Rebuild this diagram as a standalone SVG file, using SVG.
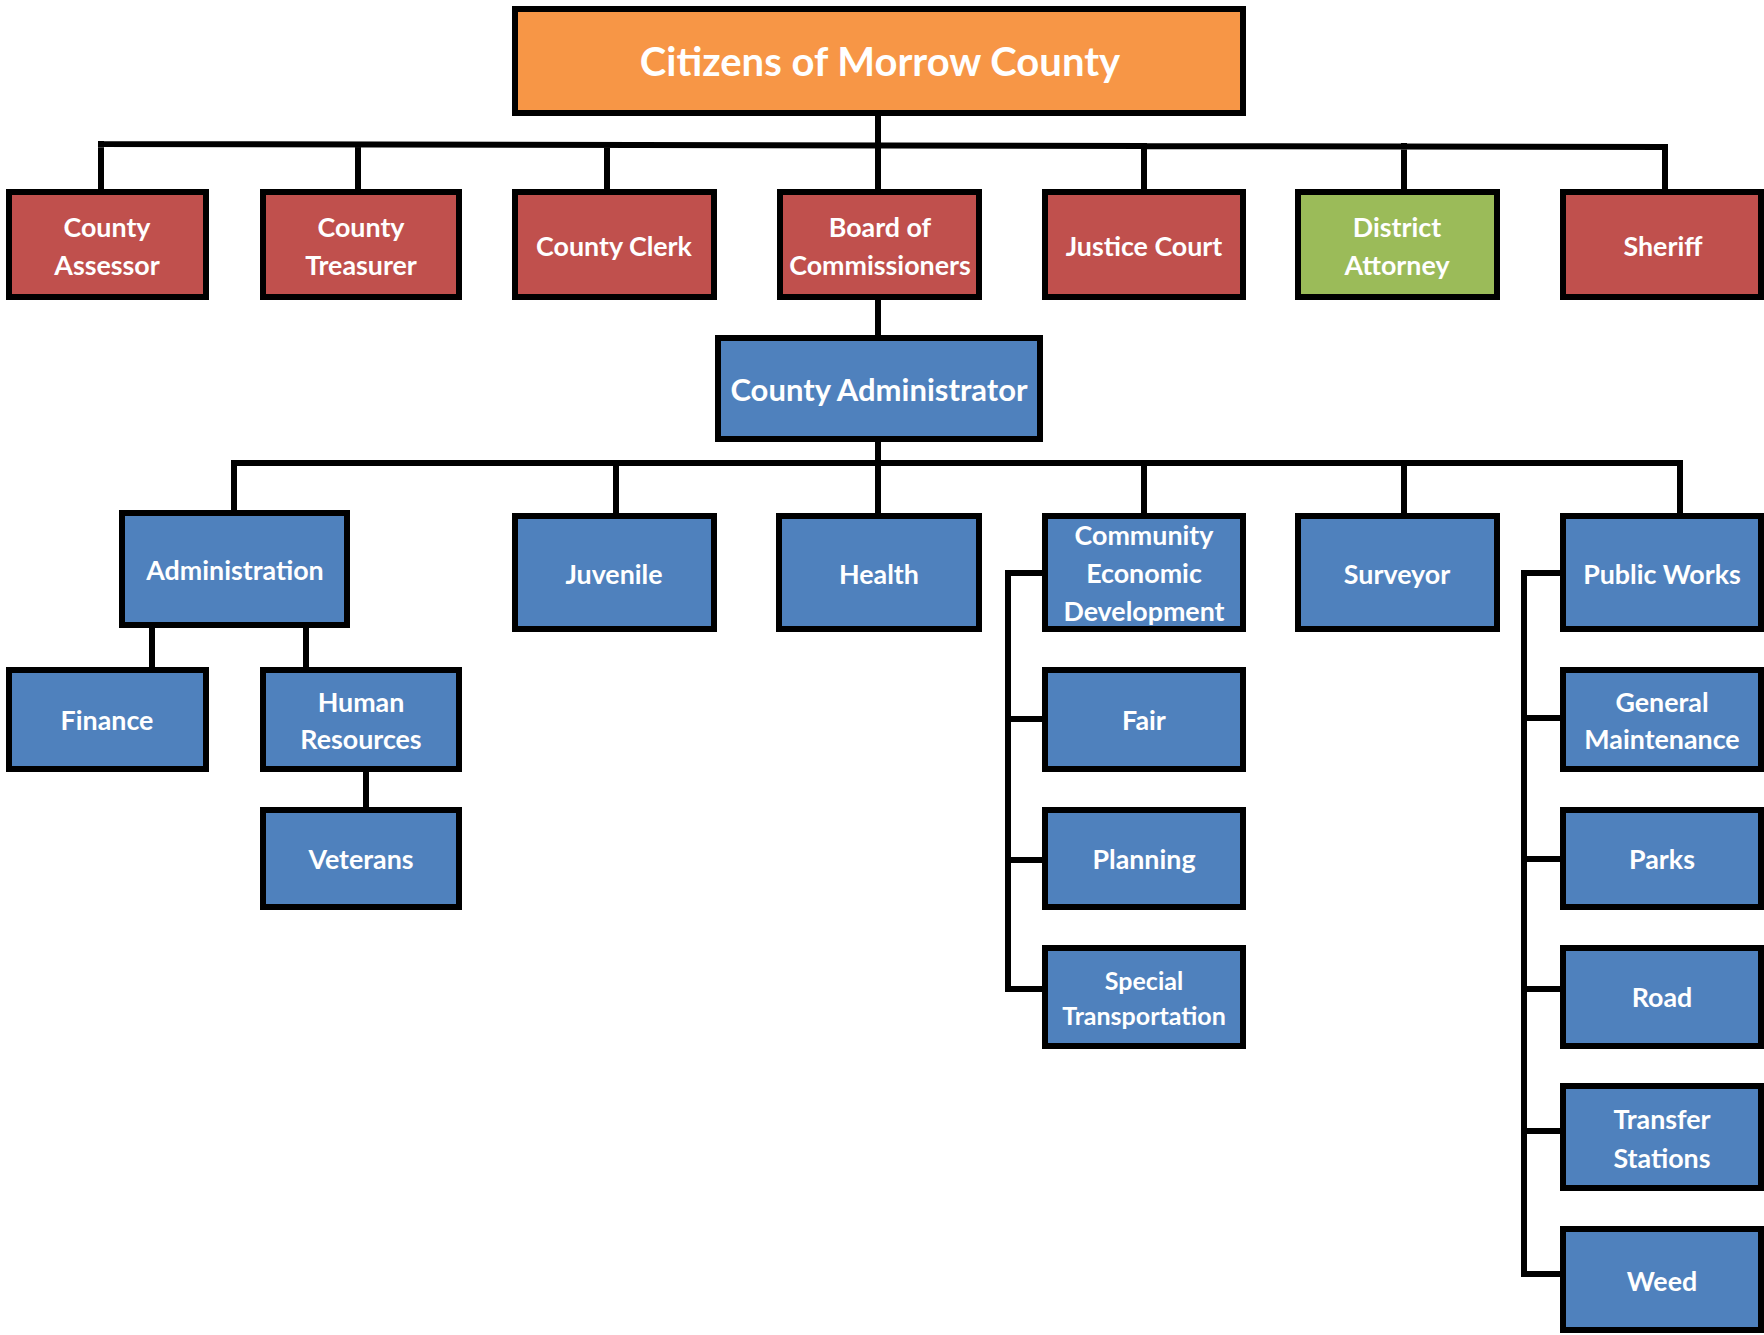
<svg xmlns="http://www.w3.org/2000/svg" width="1764" height="1335" viewBox="0 0 1764 1335">
<style>
.box{stroke:#000;stroke-width:6}
.red{fill:#C0504D}
.blue{fill:#4F81BD}
.green{fill:#9BBB59}
.orange{fill:#F79646}
text{font-family:"Lato","Open Sans",sans-serif;font-weight:bold;fill:#fff;text-anchor:middle;dominant-baseline:central;font-size:26.8px}
.big{font-size:40px}
.mid{font-size:31px}
.sm{font-size:25px}
.conn{fill:none;stroke:#000;stroke-width:6;stroke-linecap:square}
</style>
<rect width="1764" height="1335" fill="#fff"/>
<g id="connectors">
<path class="conn" d="M878 116V145M101 144L1665 147M101 144V189M358 145V189M607 145V189M878 145V189M1144 146V189M1404 146V189M1665 147V189"/>
<path class="conn" d="M878 300V335M878 442V463M234 463H1680M234 463V510M616 463V513M878 463V513M1144 463V513M1404 463V513M1680 463V513"/>
<path class="conn" d="M152 628V667M306 628V667M366 772V807"/>
<path class="conn" d="M1042 573H1008V989H1042M1008 719H1042M1008 860H1042"/>
<path class="conn" d="M1560 573H1524V1274H1560M1524 718H1560M1524 859H1560M1524 989H1560M1524 1131H1560"/>
</g>
<g id="citizens"><rect class="box orange" x="515" y="9" width="728" height="104"/><text class="big" x="880" y="61">Citizens of Morrow County</text></g>
<g id="assessor"><rect class="box red" x="9" y="192" width="197" height="105"/><text x="107" y="227">County</text><text x="107" y="265">Assessor</text></g>
<g id="treasurer"><rect class="box red" x="263" y="192" width="196" height="105"/><text x="361" y="227">County</text><text x="361" y="265">Treasurer</text></g>
<g id="clerk"><rect class="box red" x="515" y="192" width="199" height="105"/><text x="614" y="246">County Clerk</text></g>
<g id="board"><rect class="box red" x="780" y="192" width="199" height="105"/><text x="880" y="227">Board of</text><text x="880" y="265">Commissioners</text></g>
<g id="justice"><rect class="box red" x="1045" y="192" width="198" height="105"/><text x="1144" y="246">Justice Court</text></g>
<g id="da"><rect class="box green" x="1298" y="192" width="199" height="105"/><text x="1397" y="227">District</text><text x="1397" y="265">Attorney</text></g>
<g id="sheriff"><rect class="box red" x="1563" y="192" width="198" height="105"/><text x="1663" y="246">Sheriff</text></g>
<g id="admin"><rect class="box blue" x="718" y="338" width="322" height="101"/><text class="mid" x="879" y="389">County Administrator</text></g>
<g id="administration"><rect class="box blue" x="122" y="513" width="225" height="112"/><text x="235" y="570">Administration</text></g>
<g id="juvenile"><rect class="box blue" x="515" y="516" width="199" height="113"/><text x="614" y="574">Juvenile</text></g>
<g id="health"><rect class="box blue" x="779" y="516" width="200" height="113"/><text x="879" y="574">Health</text></g>
<g id="ced"><rect class="box blue" x="1045" y="516" width="198" height="113"/><text x="1144" y="535">Community</text><text x="1144" y="573">Economic</text><text x="1144" y="611">Development</text></g>
<g id="surveyor"><rect class="box blue" x="1298" y="516" width="199" height="113"/><text x="1397" y="574">Surveyor</text></g>
<g id="publicworks"><rect class="box blue" x="1563" y="516" width="198" height="113"/><text x="1662" y="574">Public Works</text></g>
<g id="finance"><rect class="box blue" x="9" y="670" width="197" height="99"/><text x="107" y="720">Finance</text></g>
<g id="hr"><rect class="box blue" x="263" y="670" width="196" height="99"/><text x="361" y="702">Human</text><text x="361" y="739">Resources</text></g>
<g id="veterans"><rect class="box blue" x="263" y="810" width="196" height="97"/><text x="361" y="859">Veterans</text></g>
<g id="fair"><rect class="box blue" x="1045" y="670" width="198" height="99"/><text x="1144" y="720">Fair</text></g>
<g id="planning"><rect class="box blue" x="1045" y="810" width="198" height="97"/><text x="1144" y="859">Planning</text></g>
<g id="specialtrans"><rect class="box blue" x="1045" y="948" width="198" height="98"/><text class="sm" x="1144" y="980">Special</text><text class="sm" x="1144" y="1015">Transportation</text></g>
<g id="genmaint"><rect class="box blue" x="1563" y="670" width="198" height="99"/><text x="1662" y="702">General</text><text x="1662" y="739">Maintenance</text></g>
<g id="parks"><rect class="box blue" x="1563" y="810" width="198" height="97"/><text x="1662" y="859">Parks</text></g>
<g id="road"><rect class="box blue" x="1563" y="948" width="198" height="98"/><text x="1662" y="997">Road</text></g>
<g id="transfer"><rect class="box blue" x="1563" y="1086" width="198" height="102"/><text x="1662" y="1119">Transfer</text><text x="1662" y="1158">Stations</text></g>
<g id="weed"><rect class="box blue" x="1563" y="1229" width="198" height="101"/><text x="1662" y="1281">Weed</text></g>
</svg>
